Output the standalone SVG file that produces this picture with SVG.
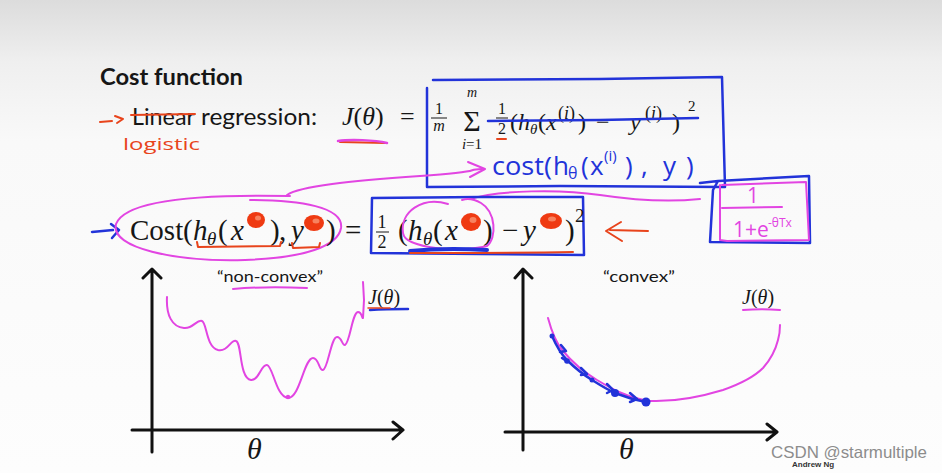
<svg xmlns="http://www.w3.org/2000/svg" width="942" height="473" viewBox="0 0 942 473">
<defs>
<linearGradient id="bg" x1="0" y1="0" x2="0" y2="473" gradientUnits="userSpaceOnUse">
<stop offset="0" stop-color="#dcdcdc"/>
<stop offset="0.13" stop-color="#efefef"/>
<stop offset="0.3" stop-color="#f9f9f9"/>
<stop offset="1" stop-color="#fdfdfd"/>
</linearGradient>
</defs>
<style>
.s{font-family:Lato,"Open Sans","Liberation Sans",sans-serif;fill:#161616}
.m{font-family:"Liberation Serif","DejaVu Serif",serif;fill:#161616}
.i{font-style:italic}
.hw{font-family:"Open Sans","Liberation Sans",sans-serif}
.b{stroke:#2233d9;fill:none;stroke-width:2.5;stroke-linecap:round;stroke-linejoin:round}
.p{stroke:#e245e2;fill:none;stroke-width:2;stroke-linecap:round;stroke-linejoin:round}
.r{stroke:#e8441c;fill:none;stroke-width:2;stroke-linecap:round;stroke-linejoin:round}
.ax{stroke:#111;fill:none;stroke-width:3;stroke-linecap:round;stroke-linejoin:round}
.blob{fill:#ef3a12}
.hl{fill:#f7825f}
</style>
<rect width="942" height="473" fill="url(#bg)"/>

<g id="title">
<text class="s" x="100" y="85" font-size="22" font-weight="bold" textLength="143" lengthAdjust="spacingAndGlyphs">Cost function</text>
</g>

<g id="row1">
<path class="r" d="M100,122 L112,121 M115,116 L123,119 L117,123"/>
<text class="s" x="132" y="125" font-size="24" textLength="63" lengthAdjust="spacingAndGlyphs">Linear</text>
<path class="r" d="M131,115 L195,114"/>
<text class="s" x="201" y="125" font-size="24" textLength="116" lengthAdjust="spacingAndGlyphs">regression:</text>
<text class="hw" x="123" y="150" font-size="17" fill="#e8441c" textLength="77" lengthAdjust="spacingAndGlyphs">logistic</text>
<text class="m" x="342" y="125" font-size="26"><tspan class="i">J</tspan>(<tspan class="i">θ</tspan>)</text>
<text class="m" x="400" y="125" font-size="26">=</text>
<path d="M340,142 L386,143" stroke="#e8441c" stroke-width="2" fill="none" stroke-linecap="round"/>
<path d="M338,141 C350,139 375,140 387,143" stroke="#e245e2" stroke-width="2.5" fill="none" stroke-linecap="round"/>
</g>

<g id="box1">
<path class="b" d="M433,80 L600,79 L722,77 L725,187 L560,186 L427,187 L427,88"/>
<text class="m" x="439" y="114" font-size="16" text-anchor="middle">1</text>
<path d="M431,118 L447,118" stroke="#161616" stroke-width="1"/>
<text class="m i" x="439" y="131" font-size="16" text-anchor="middle">m</text>
<text class="m i" x="472" y="97" font-size="14" text-anchor="middle">m</text>
<text class="m" x="472" y="131" font-size="30" text-anchor="middle">Σ</text>
<text class="m" x="472" y="149" font-size="15" text-anchor="middle"><tspan class="i">i</tspan>=1</text>
<text class="m" x="502" y="114" font-size="16" text-anchor="middle">1</text>
<path d="M496,118 L508,118" stroke="#161616" stroke-width="1"/>
<text class="m" x="502" y="134" font-size="16" text-anchor="middle">2</text>
<path class="r" d="M497,139 L506,139"/>
<text class="m" font-size="24"><tspan x="510" y="130">(</tspan><tspan class="i" x="518" y="130">h</tspan><tspan class="i" x="530" y="134" font-size="15">θ</tspan><tspan x="538" y="130">(</tspan><tspan class="i" x="546" y="130">x</tspan><tspan x="558" y="119" font-size="18">(<tspan class="i">i</tspan>)</tspan><tspan x="578" y="130">)</tspan><tspan x="596" y="130">−</tspan><tspan class="i" x="630" y="130">y</tspan><tspan x="645" y="119" font-size="18">(<tspan class="i">i</tspan>)</tspan><tspan x="672" y="130">)</tspan><tspan x="688" y="111" font-size="15">2</tspan></text>
<path class="b" d="M488,121 L600,120 L698,118"/>
<text class="hw" font-size="26" fill="#2233d9"><tspan x="492" y="175" textLength="60" lengthAdjust="spacingAndGlyphs">cost(</tspan><tspan x="553" y="175">h</tspan><tspan x="568" y="179" font-size="16">θ</tspan><tspan x="581" y="175">(</tspan><tspan x="590" y="175">x</tspan><tspan x="604" y="161" font-size="15">(i)</tspan><tspan x="625" y="175">)</tspan><tspan x="641" y="175">,</tspan><tspan x="663" y="175">y</tspan><tspan x="686" y="175">)</tspan></text>
</g>

<g id="connectors">
<path class="p" d="M287,195 C300,186 350,181 420,176 S462,170 482,169"/>
<path class="p" d="M468,162 L485,169 L470,177"/>
<path class="p" d="M470,199 C500,190 560,189 600,195 S670,202 700,199"/>
</g>

<g id="row2">
<path class="b" d="M92,232 L113,230 M111,224 L119,230 L112,238"/>
<path class="p" d="M290,196 C200,194 125,200 116,224 C110,248 175,262 245,260 C305,258 338,246 341,228 C344,207 300,200 250,200"/>
<text class="m" font-size="29"><tspan x="130" y="240">Cost</tspan><tspan x="183" y="240">(</tspan><tspan class="i" x="193" y="240">h</tspan><tspan class="i" x="207" y="245" font-size="19">θ</tspan><tspan x="218" y="240">(</tspan><tspan class="i" x="231" y="240">x</tspan><tspan x="270" y="240">)</tspan><tspan x="279" y="240">,</tspan><tspan class="i" x="291" y="240">y</tspan><tspan x="326" y="240">)</tspan><tspan x="345" y="240">=</tspan></text>
<ellipse class="blob" cx="256" cy="220" rx="9" ry="8"/>
<ellipse class="hl" cx="258" cy="218" rx="3" ry="2.5"/>
<ellipse class="blob" cx="314" cy="223" rx="10" ry="8"/>
<ellipse class="hl" cx="316" cy="221" rx="3.5" ry="2.5"/>
<path class="r" d="M197,242 L198,247 L280,246 L281,242 M292,243 L293,248 L319,247 L320,243"/>
</g>

<g id="box2">
<path class="b" d="M372,198 L480,197 L583,197 L584,255 L480,254 L371,253 L372,198"/>
<text class="m" x="382" y="228" font-size="18" text-anchor="middle">1</text>
<path d="M376,232 L389,232" stroke="#161616" stroke-width="1"/>
<text class="m" x="382" y="248" font-size="18" text-anchor="middle">2</text>
<text class="m" font-size="29"><tspan x="398" y="240">(</tspan><tspan class="i" x="408" y="240">h</tspan><tspan class="i" x="423" y="245" font-size="19">θ</tspan><tspan x="433" y="240">(</tspan><tspan class="i" x="445" y="240">x</tspan><tspan x="483" y="240">)</tspan><tspan x="502" y="240">−</tspan><tspan class="i" x="523" y="240">y</tspan><tspan x="565" y="240">)</tspan><tspan x="575" y="222" font-size="19">2</tspan></text>
<ellipse class="blob" cx="471" cy="222" rx="10" ry="9"/>
<ellipse class="hl" cx="473" cy="220" rx="3.5" ry="3"/>
<ellipse class="blob" cx="551" cy="221" rx="11" ry="8"/>
<ellipse class="hl" cx="552" cy="219" rx="4" ry="2.5"/>
<path class="p" d="M448,204 C422,196 400,212 403,233 C405,250 465,252 487,246 C497,238 496,212 481,203 C474,199 468,198 462,200"/>
<path d="M410,251 C440,248 470,249 487,250" stroke="#2233d9" stroke-width="4" fill="none" stroke-linecap="round"/>
<path class="r" d="M410,253 C470,253 520,253 573,252" stroke-width="1.5"/>
<path class="r" d="M610,230 L648,231 M621,222 L606,231 L622,241"/>
</g>

<g id="box3">
<path class="b" d="M700,183 L718,181 L790,177 L809,176 L810,243 L710,242 L713,190 L718,181"/>
<path class="p" d="M722,185 L806,182 L809,240 L727,241 L720,240 L720,185"/>
<text class="hw" x="753" y="203" font-size="21" fill="#e245e2" text-anchor="middle">1</text>
<path class="p" d="M722,208 L782,207"/>
<text class="hw" x="733" y="237" font-size="21" fill="#e245e2">1+e<tspan x="768" y="227" font-size="12">-θTx</tspan></text>
</g>

<g id="chart-left">
<path class="ax" d="M152,270 L152,452 M143,278 L152,269 L161,278 M132,430 L402,430 M393,422 L403,430 L393,439"/>
<text class="m i" x="247" y="459" font-size="30">θ</text>
<text class="s" x="217" y="282" font-size="16" textLength="106" lengthAdjust="spacingAndGlyphs">“non-convex”</text>
<path class="p" d="M233,289 C255,287 285,287 307,288"/>
<text class="m" x="368" y="304" font-size="20"><tspan class="i">J</tspan>(<tspan class="i">θ</tspan>)</text>
<path d="M370,310 C385,309 398,309 408,309" stroke="#2233d9" stroke-width="2.5" fill="none" stroke-linecap="round"/>
<path d="M368,308 L390,308" stroke="#e8441c" stroke-width="1.5" fill="none" stroke-linecap="round"/>
<path class="p" d="M167,297 C166,315 172,327 184,328 C193,329 197,319 202,321 C207,323 206,347 218,350 C228,352 231,339 236,341 C242,343 239,378 251,380 C259,381 261,364 267,365 C273,366 276,397 288,398 C300,398 304,358 313,358 C319,358 319,371 323,370 C328,369 331,337 337,337 C342,337 342,346 345,345 C350,343 352,313 358,312 C362,312 362,319 363,318 L364,300 L363,282"/>
<circle cx="288" cy="397" r="2.2" fill="#e245e2"/>
</g>

<g id="chart-right">
<path class="ax" d="M523,270 L523,450 M515,278 L523,269 L532,278 M505,432 L776,432 M767,424 L777,432 L767,440"/>
<text class="m i" x="619" y="459" font-size="30">θ</text>
<text class="s" x="603" y="282" font-size="16" textLength="72" lengthAdjust="spacingAndGlyphs">“convex”</text>
<text class="m" x="742" y="304" font-size="20"><tspan class="i">J</tspan>(<tspan class="i">θ</tspan>)</text>
<path class="p" d="M743,310 C755,309 768,309 780,310"/>
<path class="p" d="M548,318 C552,333 556,343 563,351 C572,362 582,371 597,380 C612,389 628,398 650,401 C675,402 700,397 723,390 C740,384 755,376 763,368 C772,358 776,348 778,340 C780,333 780,328 780,325"/>
<path class="b" d="M552,336 C556,345 561,354 567,360 C575,368 584,375 592,380 C600,385 608,390 615,393 C625,397 635,400 646,402"/>
<path class="b" d="M561,345 L566,351 L560,352 M562,358 L568,362 M581,368 L587,374 L581,375 M607,384 L613,390 L607,393 M630,393 L637,399 L630,402" stroke-width="2"/>
<circle cx="552" cy="336" r="2.5" fill="#2233d9"/>
<circle cx="567" cy="361" r="2.8" fill="#2233d9"/>
<circle cx="592" cy="380" r="2.5" fill="#2233d9"/>
<circle cx="615" cy="393" r="4" fill="#2233d9"/>
<circle cx="646" cy="402" r="4.5" fill="#2233d9"/>
</g>

<g id="watermark">
<text x="771" y="458" font-family="'Liberation Sans',Arial,sans-serif" font-size="16.5" fill="#8c8c8c" textLength="156" lengthAdjust="spacingAndGlyphs">CSDN @starmultiple</text>
<text x="792" y="467" font-family="'Liberation Sans',Arial,sans-serif" font-size="8" font-weight="bold" fill="#333">Andrew Ng</text>
</g>
</svg>
